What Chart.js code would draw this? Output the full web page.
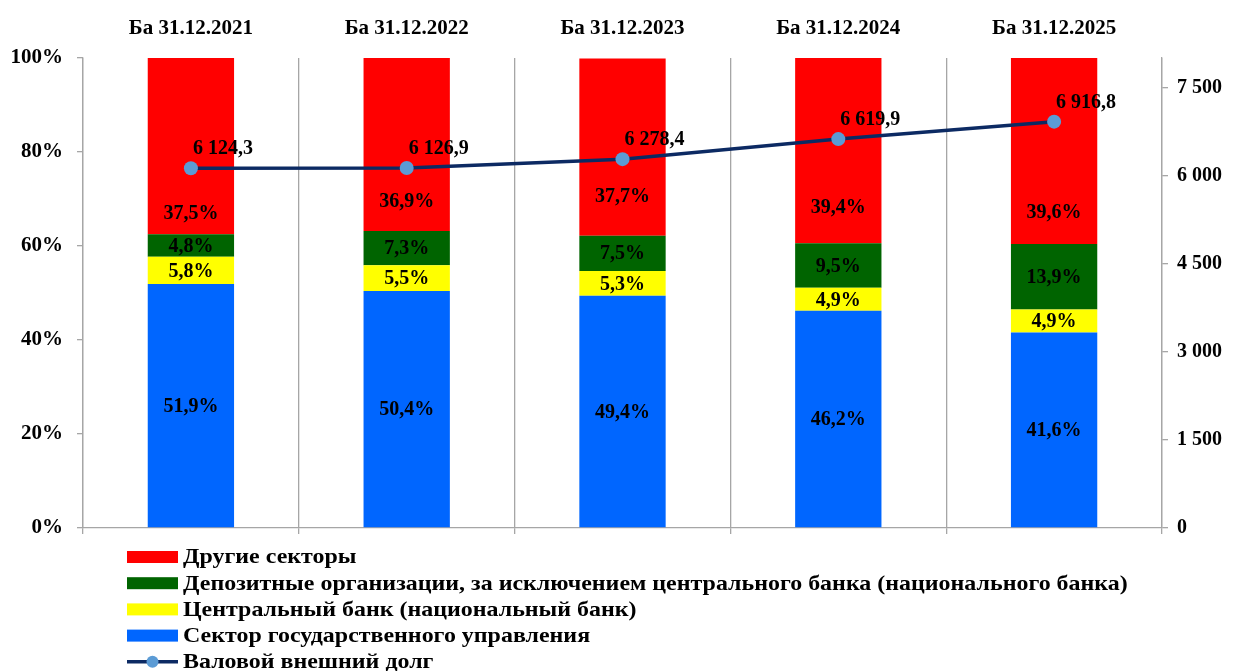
<!DOCTYPE html>
<html>
<head>
<meta charset="utf-8">
<script src="https://cdn.jsdelivr.net/npm/chart.js@4/dist/chart.umd.min.js"></script>
<style>
  html, body { margin: 0; padding: 0; background: #fff; }
  #wrap { width: 1237px; height: 671px; }
</style>
</head>
<body>
<div id="wrap"><canvas id="myChart" width="1237" height="671"></canvas></div>
<script>
var labels = ["Ба 31.12.2021", "Ба 31.12.2022", "Ба 31.12.2023", "Ба 31.12.2024", "Ба 31.12.2025"];
var govSector = [51.9, 50.4, 49.4, 46.2, 41.6];
var centralBank = [5.8, 5.5, 5.3, 4.9, 4.9];
var depositOrgs = [4.8, 7.3, 7.5, 9.5, 13.9];
var otherSectors = [37.5, 36.9, 37.7, 39.4, 39.6];
var grossDebt = [6124.3, 6126.9, 6278.4, 6619.9, 6916.8];
var leftTicks = [0, 20, 40, 60, 80, 100];
var rightTicks = [0, 1500, 3000, 4500, 6000, 7500];

var FONT = "'Liberation Serif', serif";
var GRID = "#A6A6A6";
// how far above the red segment's bottom its label sits (px), as placed in the original
var otherLabelLift = [21, 30, 40, 36, 32];

function spaced(n) {
    return String(n).replace(/\B(?=(\d{3})+(?!\d))/g, " ");
}
function debtText(v) {
    var parts = v.toFixed(1).split(".");
    return spaced(parts[0]) + "," + parts[1];
}

// value labels on bars and line
var labelPlugin = {
    id: "valueLabels",
    afterDatasetsDraw: function(chart) {
        var ctx = chart.ctx;
        ctx.save();
        ctx.fillStyle = "#000";
        ctx.font = "bold 20px " + FONT;
        ctx.textBaseline = "middle";
        chart.data.datasets.forEach(function(ds, i) {
            var meta = chart.getDatasetMeta(i);
            meta.data.forEach(function(el, j) {
                var v = ds.data[j];
                if (ds.type === "line") {
                    ctx.textAlign = "left";
                    ctx.fillText(debtText(v), el.x + 2, el.y - 19);
                } else {
                    ctx.textAlign = "center";
                    var y = (el.y + el.base) / 2;
                    if (ds.key === "other") y = el.base - otherLabelLift[j];
                    ctx.fillText(v.toFixed(1).replace(".", ",") + "%", el.x, y + 1);
                }
            });
        });
        ctx.restore();
    }
};

// vertical legend under the plot
var legendPlugin = {
    id: "listLegend",
    afterDraw: function(chart) {
        var ctx = chart.ctx;
        var order = [3, 2, 1, 0, 4];
        var x0 = 127, y0 = 557, step = 26.2;
        ctx.save();
        ctx.font = "bold 21px " + FONT;
        ctx.textBaseline = "middle";
        ctx.textAlign = "left";
        order.forEach(function(idx, r) {
            var ds = chart.data.datasets[idx];
            var y = y0 + r * step;
            if (ds.type === "line") {
                ctx.strokeStyle = ds.borderColor;
                ctx.lineWidth = 3.5;
                ctx.beginPath();
                ctx.moveTo(x0, y);
                ctx.lineTo(x0 + 51, y);
                ctx.stroke();
                ctx.fillStyle = ds.pointBackgroundColor;
                ctx.beginPath();
                ctx.arc(x0 + 25.5, y, 6, 0, Math.PI * 2);
                ctx.fill();
            } else {
                ctx.fillStyle = ds.backgroundColor;
                ctx.fillRect(x0, y - 6, 51, 12);
            }
            ctx.fillStyle = "#000";
            ctx.save();
            ctx.translate(x0 + 56, y + 1);
            ctx.scale(1.14, 1);
            ctx.fillText(ds.label, 0, 0);
            ctx.restore();
        });
        ctx.restore();
    }
};

var ctx = document.getElementById("myChart");

var data = {
    labels: labels,
    datasets: [
        { key: "gov", label: "Сектор государственного управления", data: govSector, backgroundColor: "#0066FF", order: 1 },
        { key: "cb", label: "Центральный банк (национальный банк)", data: centralBank, backgroundColor: "#FFFF00", order: 1 },
        { key: "dep", label: "Депозитные организации, за исключением центрального банка (национального банка)", data: depositOrgs, backgroundColor: "#006400", order: 1 },
        { key: "other", label: "Другие секторы", data: otherSectors, backgroundColor: "#FF0000", order: 1 },
        {
            type: "line", key: "debt", label: "Валовой внешний долг", data: grossDebt, yAxisID: "y2", order: 0,
            borderColor: "#0C2A63", borderWidth: 3.5, pointBackgroundColor: "#5B9BD5", pointBorderColor: "#5B9BD5",
            pointRadius: 7, pointBorderWidth: 0, tension: 0, fill: false
        }
    ]
};

var options = {
    responsive: false,
    animation: false,
    layout: { padding: 0 },
    datasets: { bar: { barPercentage: 0.4, categoryPercentage: 1, borderWidth: 0 } },
    plugins: { legend: { display: false }, tooltip: { enabled: false } },
    scales: {
        x: {
            position: "top", stacked: true, offset: true,
            grid: { display: false }, border: { display: false },
            ticks: { color: "#000", font: { family: FONT, size: 21, weight: "bold" }, padding: 9, maxRotation: 0 },
            afterFit: function(s) { s.height = 58; }
        },
        x2: {
            type: "category", position: "bottom", offset: true,
            grid: { offset: true, color: GRID, lineWidth: 1.3, tickLength: 6 },
            border: { color: GRID, width: 1.3 },
            ticks: { display: false },
            afterFit: function(s) { s.height = 143; }
        },
        y: {
            position: "left", stacked: true, min: 0, max: 100,
            afterBuildTicks: function(s) { s.ticks = leftTicks.map(function(v) { return { value: v }; }); },
            grid: { drawOnChartArea: false, color: GRID, lineWidth: 1.3, tickLength: 6 },
            border: { color: GRID, width: 1.3 },
            ticks: { color: "#000", font: { family: FONT, size: 21, weight: "bold" }, padding: 14, callback: function(v) { return v + "%"; } },
            afterFit: function(s) { s.width = 83; }
        },
        y2: {
            position: "right", min: 0, max: 8000,
            afterBuildTicks: function(s) { s.ticks = rightTicks.map(function(v) { return { value: v }; }); },
            grid: { drawOnChartArea: false, color: GRID, lineWidth: 1.3, tickLength: 6 },
            border: { color: GRID, width: 1.3 },
            ticks: { color: "#000", font: { family: FONT, size: 20, weight: "bold" }, padding: 9, callback: function(v) { return spaced(v); } },
            afterFit: function(s) { s.width = 75; }
        }
    }
};

var myChart = new Chart(ctx, {
    type: "bar",
    data: data,
    options: options,
    plugins: [labelPlugin, legendPlugin]
});
</script>
</body>
</html>
